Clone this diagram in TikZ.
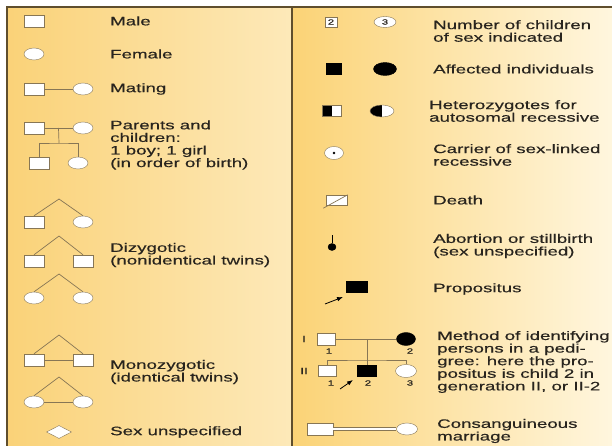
\documentclass[tikz,border=0pt]{standalone}
\usepackage{fontspec}
\setmainfont{Liberation Sans}[FakeStretch=1.52, FakeBold=0.4]
\usepackage{xcolor}
\usetikzlibrary{arrows.meta, shapes.geometric, calc}

\definecolor{frame}{RGB}{95,78,45}
\definecolor{sym}{RGB}{135,118,85}
\definecolor{ink}{RGB}{40,36,30}
\definecolor{leftA}{RGB}{250,210,120}
\definecolor{leftB}{RGB}{253,233,185}
\definecolor{rightA}{RGB}{251,211,118}
\definecolor{rightB}{RGB}{255,246,222}

\begin{document}
\begin{tikzpicture}[x=1pt, y=-1pt,
  every node/.style={font=\fontsize{12.3}{12.6}\selectfont, text=ink},
  txt/.style={anchor=west, align=left, inner sep=0pt},
  num/.style={font=\fontsize{7.5}{8}\selectfont, inner sep=0pt},
  male/.style={draw=sym, fill=white, minimum width=20pt, minimum height=12pt, inner sep=0pt},
  female/.style={male, ellipse},
  link/.style={draw=sym, line width=0.7pt},
  lefthalf/.style={path picture={\fill[black] (path picture bounding box.south west) rectangle (path picture bounding box.north);}}]

\useasboundingbox (0,0) rectangle (612,446);
% panels
\shade[left color=leftA, right color=leftB] (7,7) rectangle (292,446);
\shade[left color=rightA, right color=rightB] (292,7) rectangle (612,446);
\draw[frame, line width=1.3pt] (7,446) -- (7,7) -- (612,7);
\draw[frame, line width=1.3pt] (292,7) -- (292,446);

% left column
\node[male] (m) at (34,21) {};
\node[txt] (tm) at (110,21) {Male};

\node[female] (f) at (34,54) {};
\node[txt] (tf) at (110,54) {Female};

\node[male] (mm) at (34,89) {};
\node[female] (mf) at (83,89) {};
\draw[link] (mm) -- (mf);
\node[txt] (tmat) at (110,89) {Mating};

\node[male] (pm) at (34,128) {};
\node[female] (pf) at (83,128) {};
\node[male] (cm) at (39,163) {};
\node[female] (cf) at (78,163) {};
\coordinate (pc) at ($(pm.east)!.5!(pf.west)$);
\coordinate (sib) at (59,143);
\draw[link] (pm) -- (pf);
\draw[link] (pc) -- (sib);
\draw[link] (cm.north) |- (sib) -| (cf.north);
\node[txt] (tpar) at (110,145) {Parents and\\children:\\1 boy; 1 girl\\(in order of birth)};

% dizygotic
\node[male] (d1a) at (34,222) {};
\node[female] (d1b) at (83,222) {};
\coordinate (d1t) at (59,199);
\draw[link] (d1a.north) -- (d1t) -- (d1b.north);
\node[male] (d2a) at (34,261) {};
\node[male] (d2b) at (83,261) {};
\coordinate (d2t) at (59,236);
\draw[link] (d2a.north) -- (d2t) -- (d2b.north);
\node[female] (d3a) at (34,298) {};
\node[female] (d3b) at (83,298) {};
\coordinate (d3t) at (59,274);
\draw[link] (d3a.north) -- (d3t) -- (d3b.north);
\node[txt] (tdiz) at (110,255) {Dizygotic\\(nonidentical twins)};

% monozygotic
\node[male] (z1a) at (34,360) {};
\node[male] (z1b) at (83,360) {};
\coordinate (z1t) at (59,335);
\draw[link] (z1a.north) -- (z1t) -- (z1b.north);
\draw[link] (z1a) -- (z1b);
\node[female] (z2a) at (34,402) {};
\node[female] (z2b) at (83,402) {};
\coordinate (z2t) at (59,377);
\draw[link] (z2a.north) -- (z2t) -- (z2b.north);
\draw[link] (z2a) -- (z2b);
\node[txt] (tmono) at (110,372) {Monozygotic\\(identical twins)};

\node[male, diamond, minimum width=25pt, minimum height=13pt] (su) at (59,432) {};
\node[txt] (tsu) at (110,432) {Sex unspecified};

% right column
\node[male, num, minimum width=12pt, minimum height=10pt] (n2) at (331,22) {2};
\node[female, num, minimum width=22pt, minimum height=11pt] (n3) at (385,22) {3};
\node[txt] (tnum) at (433,31) {Number of children\\of sex indicated};

\node[male, fill=black, draw=black, minimum width=15pt, minimum height=11pt] (am) at (334,69) {};
\node[female, fill=black, draw=black, minimum width=23pt, minimum height=13pt] (af) at (385,69) {};
\node[txt] (taff) at (433,69) {Affected individuals};

\node[male, lefthalf, minimum width=19pt, minimum height=11pt] (hm) at (332,111) {};
\node[female, lefthalf, minimum width=24pt, minimum height=12pt] (hf) at (382,111) {};
\node[txt] (thet) at (429,111) {Heterozygotes for\\autosomal recessive};

\node[female, minimum width=19pt, minimum height=13pt] (cr) at (334,153) {};
\fill[black] (cr.center) circle (1.4);
\node[txt] (tcar) at (433,155) {Carrier of sex-linked\\recessive};

\node[male, minimum width=21pt, minimum height=10pt] (dt) at (337,200) {};
\draw[link] ([shift={(-3,3)}]dt.south west) -- (dt.north east);
\node[txt] (tdt) at (433,200) {Death};

\node[female, fill=black, draw=black, minimum width=8pt, minimum height=7pt] (ab) at (332,247) {};
\draw[black, line width=0.7pt] (ab.north) -- ++(0,-8);
\node[txt] (tab) at (433,246) {Abortion or stillbirth\\(sex unspecified)};

\node[male, fill=black, draw=black, minimum width=21pt, minimum height=11pt] (pr) at (357,287) {};
\coordinate (prt) at (325,304);
\coordinate (prh) at (343,297);
\draw[black, line width=0.8pt, -{Latex[length=6pt, width=4.5pt]}] (prt) -- (prh);
\node[txt] (tpr) at (433,289) {Propositus};

% pedigree
\node[num, font=\fontsize{9}{10}\selectfont] (gI) at (304,339) {I};
\node[num, font=\fontsize{9}{10}\selectfont] (gII) at (304,371) {II};
\node[male, minimum width=18pt, minimum height=12pt] (g1a) at (326,339) {};
\node[female, fill=black, draw=black, minimum width=19pt, minimum height=13pt] (g1b) at (406,339) {};
\node[male, minimum width=18pt, minimum height=11pt] (g2a) at (327,371) {};
\node[male, fill=black, draw=black, minimum width=19pt, minimum height=11pt] (g2b) at (367,371) {};
\node[female, minimum width=21pt, minimum height=13pt] (g2c) at (406,371) {};
\coordinate (g1m) at (367,339);
\coordinate (g1s) at (367,360);
\draw[link] (g1a) -- (g1b);
\draw[link] (g1m) -- (g1s);
\draw[link] (g2a.north) |- (g1s) -| (g2c.north);
\draw[link] (g1s) -- (g2b.north);
\node[num] (l1a) at (329,351) {1};
\node[num] (l1b) at (410,351) {2};
\node[num] (l2a) at (331,383) {1};
\node[num] (l2b) at (368,383) {2};
\node[num] (l2c) at (410,383) {3};
\coordinate (pa) at (340,389);
\coordinate (pb) at (353,380);
\draw[black, line width=0.8pt, -{Latex[length=6pt, width=4.5pt]}] (pa) -- (pb);
\node[txt] (tmeth) at (437,362) {Method of identifying\\persons in a pedi-\\gree: here the pro-\\positus is child 2 in\\generation II, or II-2};

\node[male, minimum width=26pt, minimum height=12pt] (csm) at (320,429) {};
\node[female, minimum width=21pt, minimum height=12pt] (csf) at (407,429) {};
\draw[draw=sym, double=white, double distance=2.5pt, line width=0.6pt] (csm) -- (csf);
\node[txt] (tcs) at (437,431) {Consanguineous\\marriage};
\end{tikzpicture}
\end{document}
